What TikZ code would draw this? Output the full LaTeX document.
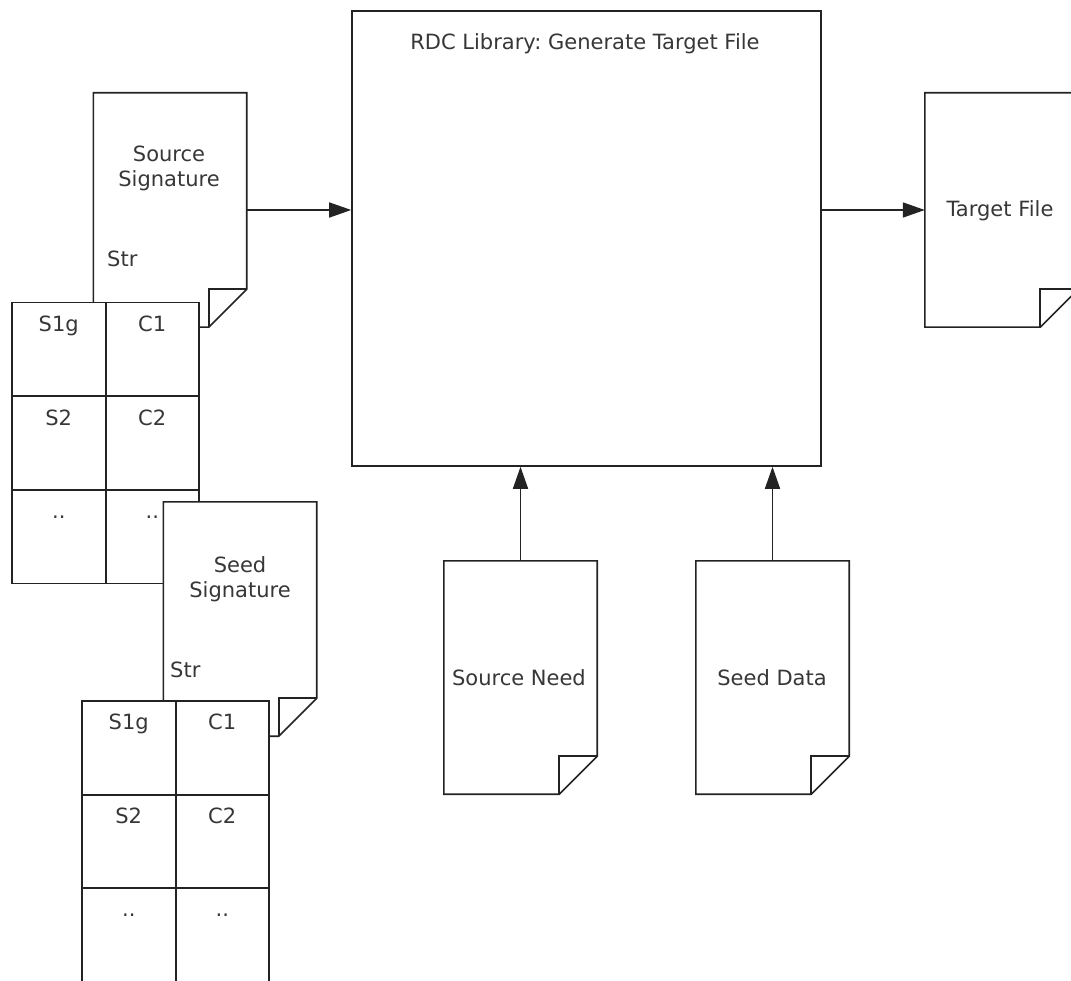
\documentclass[tikz,border=0pt]{standalone}
\usepackage{fontspec}
\setmainfont{DejaVu Sans}
\usetikzlibrary{arrows.meta}
\definecolor{ln}{RGB}{35,35,35}
\definecolor{tx}{RGB}{55,55,55}
\newcommand\docoutline[1]{%
  \draw[outl] (#1.north west) -- (#1.north east) -- ([yshift=38pt]#1.south east)
    -- ([xshift=-38pt]#1.south east) -- (#1.south west) -- cycle;
  \draw[outl] ([xshift=-38pt]#1.south east) -- ([xshift=-38pt,yshift=38pt]#1.south east)
    -- ([yshift=38pt]#1.south east);}
\newcommand\cellborders[1]{%
  \foreach \c in {#1} {\draw[outl] (\c.north west) rectangle (\c.south east);}}
\tikzset{
  outl/.style={draw=ln, line width=1.6pt, line join=miter},
  txt/.style={text=tx, font=\fontsize{21}{25}\selectfont, inner sep=0pt, align=center},
  docnode/.style={rectangle, fill=white, draw=none, inner sep=0pt,
    minimum width=153pt, minimum height=234pt},
  cell/.style={rectangle, fill=white, draw=none, inner sep=0pt,
    minimum width=93.5pt, minimum height=93.5pt},
  celltext/.style={label={[txt, anchor=base, yshift=-29pt]north:#1}},
  arr/.style={draw=ln, line width=1.6pt, -{Triangle[length=22pt,width=15pt]}},
}
\begin{document}
\begin{tikzpicture}[x=1pt,y=-1pt]
\useasboundingbox[fill=white] (0,0) rectangle (1071,981);

% Source signature document
\node[docnode] (srcsig) at (170,210) {};
\docoutline{srcsig}
\node[txt, anchor=base] (srcsigT) at (169,187) {Source\\Signature};
\node[txt, anchor=base west] (srcstr) at (107,267) {Str};

% table 1
\node[cell, celltext=S1g] (t1a) at (58.75,349.5) {};
\node[cell, celltext=C1]  (t1b) at (152.25,349.5) {};
\node[cell, celltext=S2]  (t1c) at (58.75,443) {};
\node[cell, celltext=C2]  (t1d) at (152.25,443) {};
\node[cell, celltext=..]  (t1e) at (58.75,536.5) {};
\node[cell, celltext=..]  (t1f) at (152.25,536.5) {};
\cellborders{t1a,t1b,t1c,t1d,t1e,t1f}

% Seed signature document
\node[docnode] (seedsig) at (240,619) {};
\docoutline{seedsig}
\node[txt, anchor=base] (seedsigT) at (240,597) {Seed\\Signature};
\node[txt, anchor=base west] (seedstr) at (170,677) {Str};

% table 2
\node[cell, celltext=S1g] (t2a) at (128.75,747.75) {};
\node[cell, celltext=C1]  (t2b) at (222.25,747.75) {};
\node[cell, celltext=S2]  (t2c) at (128.75,841.25) {};
\node[cell, celltext=C2]  (t2d) at (222.25,841.25) {};
\node[cell, celltext=.., minimum height=96pt]  (t2e) at (128.75,936) {};
\node[cell, celltext=.., minimum height=96pt]  (t2f) at (222.25,936) {};
\cellborders{t2a,t2b,t2c,t2d,t2e,t2f}

% main box
\node[rectangle, draw=ln, line width=1.6pt, minimum width=469pt, minimum height=455pt, inner sep=0pt] (main) at (586.5,238.5) {};
\node[txt, anchor=base] (title) at (585,50) {RDC Library:\ Generate Target File};

% target file
\node[docnode] (tgt) at (1001.5,210) {};
\docoutline{tgt}
\node[txt, anchor=base] (tgtT) at (1000,217) {Target File};

% source need
\node[docnode, minimum height=233pt] (srcneed) at (520.5,677.5) {};
\docoutline{srcneed}
\node[txt, anchor=base] (srcneedT) at (519,685) {Source Need};

% seed data
\node[docnode, minimum height=233pt] (seeddata) at (772.5,677.5) {};
\docoutline{seeddata}
\node[txt, anchor=base] (seeddataT) at (772,685) {Seed Data};

% connectors
\draw[arr] (srcsig.east) -- (main.west |- srcsig.east);
\draw[arr] (main.east |- tgt.west) -- (tgt.west);
\draw[arr] (srcneed.north) -- (srcneed.north |- main.south);
\draw[arr] (seeddata.north) -- (seeddata.north |- main.south);
\end{tikzpicture}
\end{document}
